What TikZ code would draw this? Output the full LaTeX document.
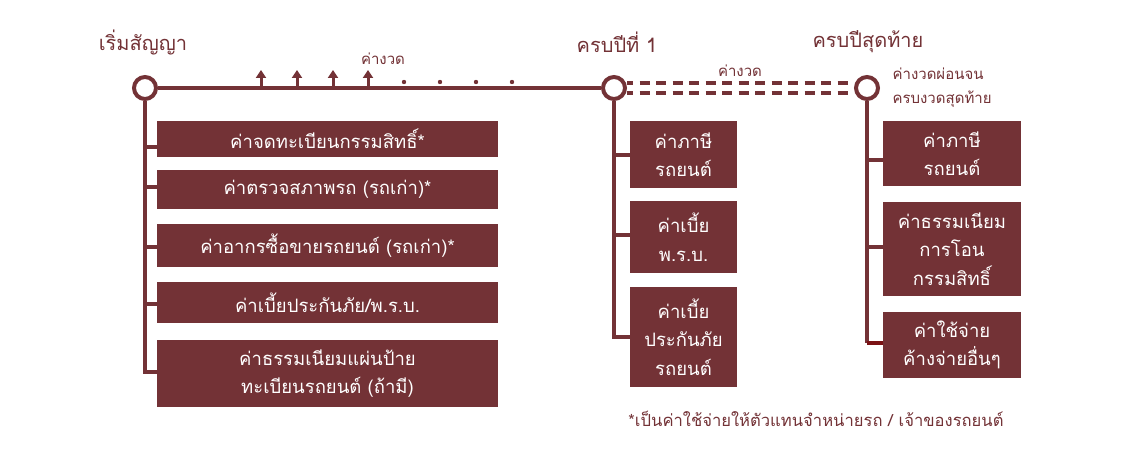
\documentclass[tikz,border=0pt]{standalone}
\usepackage{fontspec}
\setmainfont[Script=Thai]{Loma}
\usetikzlibrary{arrows.meta}
\definecolor{maroon}{HTML}{733236}
\definecolor{deepred}{HTML}{7B1215}
\begin{document}
\begin{tikzpicture}[x=1pt,y=-1pt,
  box/.style={fill=maroon, text=white, font=\fontsize{18.5}{28.5}\selectfont, align=center, inner sep=0pt},
  milestone/.style={circle, draw=maroon, line width=4pt, fill=white, minimum size=22pt, inner sep=0pt},
  title/.style={text=maroon, font=\fontsize{20}{24}\selectfont},
  small/.style={text=maroon, font=\fontsize{15}{24}\selectfont},
  mainline/.style={draw=maroon, line width=4.5pt},
  dashline/.style={draw=maroon, line width=4pt, dash pattern=on 10pt off 6.5pt, dash phase=4pt},
  conn/.style={draw=maroon, line width=4pt},
  uparrow/.style={draw=maroon, line width=3pt, -{Triangle[width=10pt,length=8pt]}},
]
\useasboundingbox[fill=white] (0,0) rectangle (1136,454);

% titles
\node[title] (t1) at (143,42) {เริ่มสัญญา};
\node[title] (t2) at (617,42) {ครบปีที่ 1};
\node[title] (t3) at (868,42) {ครบปีสุดท้าย};

% left boxes
\node[box, minimum width=341pt, minimum height=36pt] (b1) at (327.5,139) {ค่าจดทะเบียนกรรมสิทธิ์*};
\node[box, minimum width=341pt, minimum height=39pt] (b2) at (327.5,189.5) {ค่าตรวจสภาพรถ (รถเก่า)*};
\node[box, minimum width=341pt, minimum height=43pt] (b3) at (327.5,245.5) {ค่าอากรซื้อขายรถยนต์ (รถเก่า)*};
\node[box, minimum width=341pt, minimum height=41pt] (b4) at (327.5,302.5) {ค่าเบี้ยประกันภัย/พ.ร.บ.};
\node[box, minimum width=341pt, minimum height=67pt] (b5) at (327.5,373.5) {ค่าธรรมเนียมแผ่นป้าย\\ทะเบียนรถยนต์ (ถ้ามี)};

% middle boxes
\node[box, minimum width=107pt, minimum height=67pt] (m1) at (683.5,154.5) {ค่าภาษี\\รถยนต์};
\node[box, minimum width=107pt, minimum height=72pt] (m2) at (683.5,237) {ค่าเบี้ย\\พ.ร.บ.};
\node[box, minimum width=107pt, minimum height=100pt] (m3) at (683.5,337) {ค่าเบี้ย\\ประกันภัย\\รถยนต์};

% right boxes
\node[box, minimum width=138pt, minimum height=65pt] (r1) at (952,153.5) {ค่าภาษี\\รถยนต์};
\node[box, minimum width=138pt, minimum height=94pt] (r2) at (952,249) {ค่าธรรมเนียม\\การโอน\\กรรมสิทธิ์};
\node[box, minimum width=138pt, minimum height=66pt] (r3) at (952,345) {ค่าใช้จ่าย\\ค้างจ่ายอื่นๆ};

% stub points
\coordinate (s1) at ([yshift=-8pt]b1.west);
\coordinate (s2) at ([yshift=2pt]b2.west);
\coordinate (s3) at ([yshift=-2pt]b3.west);
\coordinate (s4) at ([yshift=-2pt]b4.west);
\coordinate (s5) at ([yshift=1pt]b5.west);
\coordinate (u1) at ([yshift=-0.5pt]m1.west);
\coordinate (u2) at ([yshift=1.5pt]m2.west);
\coordinate (u3) at ([yshift=-0.5pt]m3.west);
\coordinate (v1) at ([yshift=-6.5pt]r1.west);
\coordinate (v2) at ([yshift=1.5pt]r2.west);
\coordinate (v3) at ([yshift=2pt]r3.west);

% milestones
\node[milestone] (c1) at (145,88) {};
\node[milestone] (c2) at (614,88) {};
\node[milestone] (c3) at (867,88) {};

% main line and dashed lines
\draw[mainline] (c1.east) -- (c2.west);
\draw[dashline] ([yshift=5pt]c2.east) -- ([yshift=5pt]c3.west);
\draw[dashline] ([yshift=-5pt]c2.east) -- ([yshift=-5pt]c3.west);

% instalment arrows and dots
\foreach \x in {261,297,333,368} {
  \coordinate (a\x) at (\x,88);
  \draw[uparrow] (a\x) -- ++(0,-18);
}
\foreach \x in {404,440,476,512} {
  \fill[maroon] (\x,82) circle (2.2pt);
}

% labels
\node[small] (l1) at (383,59) {ค่างวด};
\node[small] (l2) at (740,71) {ค่างวด};
\node[small, anchor=west, align=left] (l3) at (889,88) {ค่างวดผ่อนจน\\ครบงวดสุดท้าย};

% left connectors
\draw[conn] (c1.south) |- (s5);
\foreach \s in {s1,s2,s3,s4} { \draw[conn] (c1 |- \s) -- (\s); }
% middle connectors
\draw[conn] (c2.south) |- (u3);
\foreach \s in {u1,u2} { \draw[conn] (c2 |- \s) -- (\s); }
% right connectors
\draw[conn] (c3.south) -- (c3 |- v3);
\foreach \s in {v1,v2} { \draw[conn] (c3 |- \s) -- (\s); }
\draw[draw=deepred, line width=4.5pt] (c3 |- v3) -- (v3);

% footnote
\node[text=maroon, font=\fontsize{16.6}{20}\selectfont] (fn) at (816,419) {*เป็นค่าใช้จ่ายให้ตัวแทนจำหน่ายรถ / เจ้าของรถยนต์};
\end{tikzpicture}
\end{document}
